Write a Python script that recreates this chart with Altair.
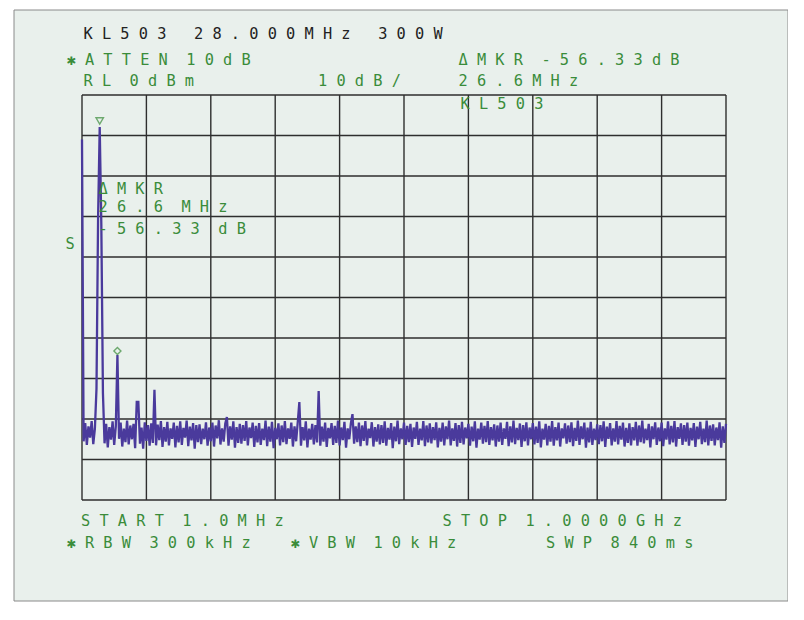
import altair as alt
import numpy as np
import pandas as pd

# ---- sweep settings ----
START_MHZ = 1.0
STOP_MHZ = 1000.0
N_POINTS = 401

# ---- trace levels (dBm), one per sweep point ----
LEVEL_DBM = [
    -11.0,
    -85.5, -81.0, -86.4, -81.8, -84.6, -80.5, -86.2, -82.4, -72.5, -30.0, -7.9, -32.0, -73.6, -86.0, -81.2, -87.0, -82.0, -85.1, -80.6,
    -86.4, -81.8, -64.2, -84.9, -80.9, -86.8, -82.4, -85.7, -80.4, -86.3, -81.6, -85.0, -81.2, -87.2, -75.8, -75.8, -86.1, -82.1, -87.3, -80.8,
    -85.4, -81.5, -86.6, -81.1, -85.9, -72.8, -86.5, -81.4, -85.2, -80.5, -86.9, -82.0, -85.6, -80.7, -86.5, -82.3, -84.9, -80.9, -87.0, -81.7,
    -85.8, -80.6, -86.4, -82.2, -84.6, -80.4, -86.7, -81.9, -85.3, -81.0, -87.3, -81.5, -85.7, -81.3, -86.2, -82.4, -85.0, -80.8, -86.6, -82.1,
    -85.5, -80.9, -86.8, -81.6, -84.8, -80.3, -86.3, -82.3, -85.6, -81.1, -79.5, -86.6, -81.8, -85.1, -80.6, -87.1, -82.0, -85.9, -81.2, -86.1,
    -81.5, -85.4, -80.5, -86.5, -82.1, -84.7, -80.9, -86.9, -81.7, -85.8, -81.0, -86.4, -82.4, -85.2, -80.4, -86.7, -81.9, -85.6, -80.7, -87.2,
    -82.2, -85.0, -81.1, -86.5, -81.6, -85.7, -80.5, -86.2, -82.3, -84.9, -80.9, -86.8, -81.8, -85.5, -80.8, -75.8, -86.6, -82.0, -85.3, -80.6,
    -87.0, -82.4, -85.1, -81.2, -86.3, -81.5, -85.8, -73.1, -86.6, -81.9, -85.6, -80.9, -86.9, -82.2, -84.8, -81.0, -86.4, -81.7, -85.9, -80.4,
    -86.5, -82.1, -85.2, -80.7, -87.1, -82.3, -85.0, -81.1, -78.8, -86.1, -81.8, -85.7, -80.9, -86.7, -81.6, -85.4, -80.5, -86.5, -82.4, -84.7,
    -80.8, -86.8, -82.0, -85.6, -81.3, -86.3, -81.5, -85.9, -80.6, -86.6, -82.2, -85.1, -81.0, -87.2, -81.9, -85.5, -80.4, -86.2, -82.3, -85.0,
    -80.9, -86.4, -81.7, -85.7, -81.2, -86.9, -82.1, -84.9, -80.7, -86.4, -82.4, -85.3, -80.5, -86.7, -81.6, -85.8, -81.1, -86.0, -82.0, -85.2,
    -80.8, -87.0, -82.2, -85.6, -80.9, -86.5, -81.8, -85.0, -80.4, -86.5, -82.3, -85.4, -81.0, -86.8, -81.5, -85.9, -80.7, -86.3, -82.1, -84.8,
    -81.2, -86.6, -81.9, -85.5, -80.6, -87.1, -82.4, -85.1, -80.9, -86.1, -81.7, -85.7, -80.5, -86.4, -82.0, -85.3, -81.3, -86.8, -81.6, -85.6,
    -80.9, -86.4, -82.3, -84.9, -80.7, -86.7, -81.8, -85.8, -80.4, -86.2, -82.2, -85.2, -81.1, -86.9, -81.5, -85.5, -80.8, -86.5, -82.1, -85.0,
    -81.0, -86.3, -81.9, -85.9, -80.6, -87.0, -82.4, -85.1, -81.2, -86.5, -81.7, -85.6, -80.5, -86.6, -82.0, -85.3, -80.9, -86.8, -82.3, -84.8,
    -81.1, -86.1, -81.6, -85.7, -80.8, -86.7, -82.2, -85.4, -80.4, -86.4, -81.8, -85.0, -80.9, -87.1, -82.1, -85.8, -80.7, -86.4, -82.4, -85.2,
    -81.3, -86.2, -81.5, -85.5, -80.6, -86.9, -81.9, -84.9, -81.0, -86.5, -82.3, -85.6, -80.5, -86.3, -81.7, -85.1, -80.9, -86.8, -82.2, -85.9,
    -81.1, -86.5, -82.0, -85.3, -80.7, -86.6, -81.6, -85.7, -80.4, -86.0, -82.4, -85.2, -81.2, -87.0, -81.8, -85.0, -80.8, -86.4, -82.1, -85.5,
    -80.9, -86.7, -82.3, -85.1, -80.6, -86.3, -81.7, -85.8, -80.5, -86.8, -82.0, -84.9, -81.1, -86.4, -81.5, -85.6, -80.9, -86.6, -82.2, -85.3,
    -81.0, -86.9, -81.9, -85.0, -80.7, -86.2, -82.4, -85.7, -80.4, -86.5, -81.6, -85.4, -81.3, -86.5, -82.1, -85.2, -80.8, -87.1, -81.8, -85.9,
    -81.2,
]

# markers: reference marker on carrier, delta marker on spur
MARKER_IDX = [11, 22]

# graticule: 10 horizontal divisions, 10 dB/div from RL 0 dBm
GRID_FREQ = [1.0, 100.9, 200.8, 300.7, 400.6, 500.5, 600.4, 700.3, 800.2, 900.1, 1000.0]
GRID_DB = [0, -10, -20, -30, -40, -50, -60, -70, -80, -90, -100]

# annotation texts
TXT_HEADER = "KL503  28.000MHz  300W"
TXT_ATTEN = "✱ATTEN 10dB"
TXT_RL = "RL 0dBm"
TXT_SCALE = "10dB/"
TXT_DMKR = "ΔMKR -56.33dB"
TXT_DFREQ = "26.6MHz"
TXT_TITLE = "KL503"
TXT_IN1 = "ΔMKR"
TXT_IN2 = "26.6 MHz"
TXT_IN3 = "-56.33 dB"
TXT_S = "S"
TXT_START = "START 1.0MHz"
TXT_STOP = "STOP 1.0000GHz"
TXT_RBW = "✱RBW 300kHz"
TXT_VBW = "✱VBW 10kHz"
TXT_SWP = "SWP 840ms"

# ---- styling ----
W, H = 644, 405
BG = "#e9f0ec"
GRID_C = "#2e2e2e"
TRACE_C = "#4a3a9c"
GREEN = "#3a8c3a"
DARK = "#222222"
FONT = "DejaVu Sans Mono"
FS = 15.3

freqs = np.linspace(START_MHZ, STOP_MHZ, N_POINTS)
trace = pd.DataFrame({"f": freqs, "db": LEVEL_DBM})
mk = trace.iloc[MARKER_IDX].reset_index(drop=True)

xs = alt.Scale(domain=[START_MHZ, STOP_MHZ], nice=False, zero=False)
ys = alt.Scale(domain=[-100, 0], nice=False, zero=False)


def spaced(s):
    out = ""
    for c in s:
        out += "\u00a0" if c == " " else c + "\u00a0"
    return out.rstrip("\u00a0")


def label(txt, x, y, color=GREEN):
    return alt.Chart(pd.DataFrame({"t": [spaced(txt)]})).mark_text(
        align="left", baseline="middle", font=FONT, fontSize=FS, color=color
    ).encode(x=alt.value(x), y=alt.value(y), text="t:N")


frame = alt.Chart(pd.DataFrame({"a": [0]})).mark_rect(
    fill=BG, stroke="#8a8a8a", strokeWidth=1
).encode(x=alt.value(-68), x2=alt.value(706), y=alt.value(-85), y2=alt.value(506))

vgrid = alt.Chart(pd.DataFrame({"f": GRID_FREQ})).mark_rule(
    color=GRID_C, strokeWidth=1.4
).encode(x=alt.X("f:Q", scale=xs, axis=None), y=alt.value(0), y2=alt.value(H))

hgrid = alt.Chart(pd.DataFrame({"db": GRID_DB})).mark_rule(
    color=GRID_C, strokeWidth=1.4
).encode(y=alt.Y("db:Q", scale=ys, axis=None), x=alt.value(0), x2=alt.value(W))

line = alt.Chart(trace).mark_line(color=TRACE_C, strokeWidth=2.3).encode(
    x=alt.X("f:Q", scale=xs, axis=None),
    y=alt.Y("db:Q", scale=ys, axis=None),
)

mk_ref = alt.Chart(mk.iloc[[0]]).mark_point(
    shape="triangle-down", filled=False, color=GREEN, size=55, strokeWidth=1.4, yOffset=-6
).encode(x=alt.X("f:Q", scale=xs, axis=None), y=alt.Y("db:Q", scale=ys, axis=None))

mk_delta = alt.Chart(mk.iloc[[1]]).mark_point(
    shape="diamond", filled=False, color=GREEN, size=50, strokeWidth=1.4, yOffset=-4
).encode(x=alt.X("f:Q", scale=xs, axis=None), y=alt.Y("db:Q", scale=ys, axis=None))

texts = [
    label(TXT_HEADER, 1.5, -61, DARK),
    label(TXT_ATTEN, -15.5, -35),
    label(TXT_RL, 1.5, -14),
    label(TXT_SCALE, 236, -14),
    label(TXT_DMKR, 376.5, -35),
    label(TXT_DFREQ, 376.5, -14),
    label(TXT_TITLE, 378.5, 9),
    label(TXT_IN1, 16.5, 94),
    label(TXT_IN2, 16.5, 112),
    label(TXT_IN3, 16.5, 134),
    label(TXT_S, -16.5, 149),
    label(TXT_START, -1, 426),
    label(TXT_STOP, 360.5, 426),
    label(TXT_RBW, -15.5, 448),
    label(TXT_VBW, 208.5, 448),
    label(TXT_SWP, 464, 448),
]

chart = alt.layer(frame, hgrid, vgrid, line, mk_ref, mk_delta, *texts).properties(
    width=W,
    height=H,
    autosize=alt.AutoSizeParams(type="none"),
    padding={"left": 74, "top": 87, "right": 62, "bottom": 112},
    background="white",
).configure_view(stroke=None)

chart.save("out.html", embed_options={"renderer": "svg", "actions": False})
